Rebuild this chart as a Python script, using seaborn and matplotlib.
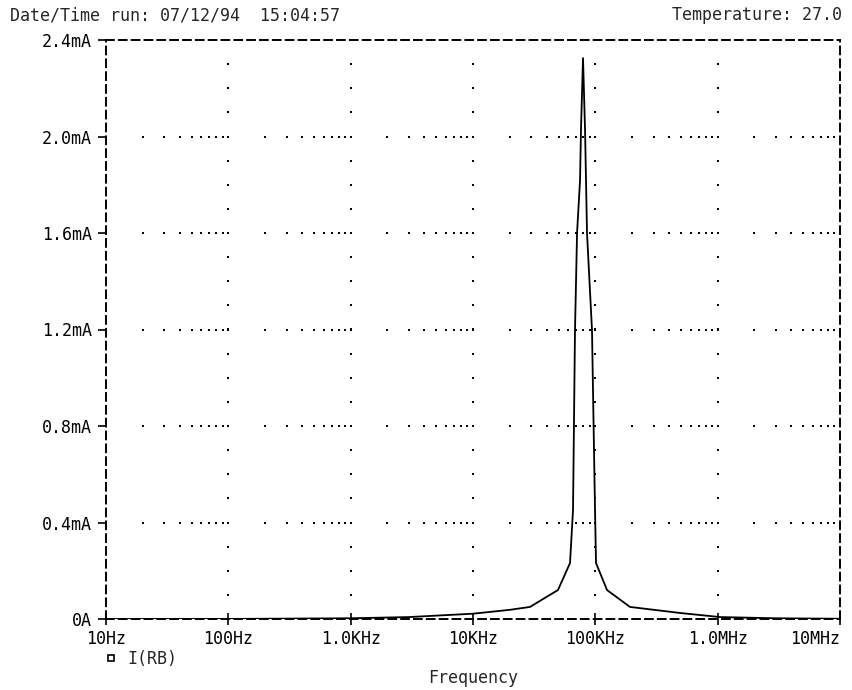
import numpy as np
import pandas as pd
import matplotlib
matplotlib.use("Agg")
import matplotlib.pyplot as plt
from matplotlib.lines import Line2D
import seaborn as sns

# ---- data ----
freq_hz = [10, 100, 1000, 3000, 10000, 20000, 29200, 49500, 62100, 65700, 68200,
           70900, 75000, 76400, 79300, 82400, 83900, 85500, 93900, 99400, 101300,
           124600, 192000, 492000, 1045000, 3000000, 10000000]
current_ma = [0.0, 0.0003, 0.003, 0.008, 0.022, 0.038, 0.050, 0.120, 0.232, 0.452, 1.198,
              1.600, 1.820, 2.035, 2.325, 2.027, 1.820, 1.600, 1.198, 0.452, 0.232,
              0.120, 0.050, 0.025, 0.008, 0.003, 0.001]
x_ticks = [10, 100, 1e3, 1e4, 1e5, 1e6, 1e7]
x_tick_labels = ["10Hz", "100Hz", "1.0KHz", "10KHz", "100KHz", "1.0MHz", "10MHz"]
y_ticks = [0.0, 0.4, 0.8, 1.2, 1.6, 2.0, 2.4]
y_tick_labels = ["0A", "0.4mA", "0.8mA", "1.2mA", "1.6mA", "2.0mA", "2.4mA"]
header_left = "Date/Time run: 07/12/94  15:04:57"
header_right = "Temperature: 27.0"
x_label = "Frequency"
trace_name = "I(RB)"

sns.set_style("white")
plt.rcParams["font.family"] = ["DejaVu Sans Mono", "DejaVu Sans"]
FS = 12

W, H = 853, 690
fig = plt.figure(figsize=(W / 100, H / 100), dpi=100)
L, R, B, T = 106, 840, 619, 40
ax = fig.add_axes([L / W, 1 - B / H, (R - L) / W, (B - T) / H])

df = pd.DataFrame({"f": freq_hz, "i": current_ma})
sns.lineplot(data=df, x="f", y="i", ax=ax, color="black", linewidth=1.3,
             estimator=None, sort=False, zorder=3)

ax.set_xscale("log")
ax.set_xlim(x_ticks[0], x_ticks[-1])
ax.set_ylim(y_ticks[0], y_ticks[-1])

# dotted grid: decade columns with 0.1mA dots, major rows with log-minor dots
gx, gy = [], []
for xv in x_ticks[1:-1]:
    for k in range(1, 24):
        gx.append(xv); gy.append(k * 0.1)
for yv in y_ticks[1:-1]:
    for d in x_ticks[:-1]:
        for m in range(1, 10):
            gx.append(d * m); gy.append(yv)
ax.scatter(gx, gy, s=2.2, marker="s", color="black", linewidths=0, zorder=2)

ax.set_xticks(x_ticks)
ax.set_xticklabels(x_tick_labels)
ax.set_xticks([], minor=True)
ax.set_yticks(y_ticks)
ax.set_yticklabels(y_tick_labels)
ax.tick_params(axis="x", direction="inout", length=8, width=1.2, pad=4,
               labelsize=FS, colors="black", bottom=True)
ax.tick_params(axis="y", direction="out", length=6, width=1.2, pad=4,
               labelsize=FS, colors="black", left=True)
ax.get_xticklabels()[-1].set_horizontalalignment("right")
ax.set_xlabel("")
ax.set_ylabel("")

for s in ax.spines.values():
    s.set_visible(True)
    s.set_color("black")
    s.set_linewidth(1.4)
    s.set_linestyle((0, (4, 2.6)))

fig.text(10 / W, 1 - 16 / H, header_left, fontsize=FS, ha="left", va="center")
fig.text(842 / W, 1 - 15 / H, header_right, fontsize=FS, ha="right", va="center")
fig.text((L + R) / 2 / W, 1 - 678 / H, x_label, fontsize=FS, ha="center", va="center")

handle = Line2D([], [], marker="s", linestyle="none", markerfacecolor="none",
                markeredgecolor="black", markersize=5, markeredgewidth=1.2)
ax.legend([handle], [trace_name], loc="center left", frameon=False,
          bbox_to_anchor=((104 - L) / (R - L), -(659 - B) / (B - T)),
          fontsize=FS, handlelength=0.8, handletextpad=0.6, borderaxespad=0,
          borderpad=0)

fig.savefig("out.png", dpi=100)
